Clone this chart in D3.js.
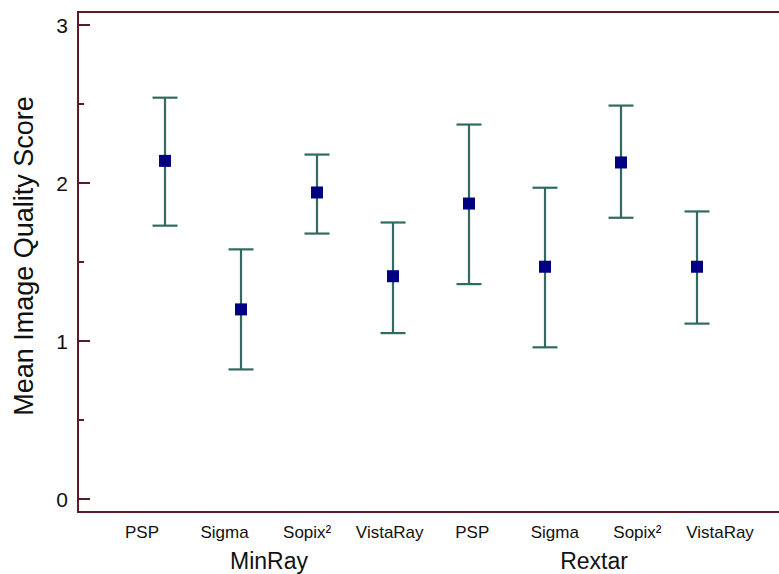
<!DOCTYPE html>
<html><head><meta charset="utf-8">
<script src="https://cdn.jsdelivr.net/npm/d3@7"></script>
<style>body{margin:0;background:#fff}svg{display:block}text{font-family:"Liberation Sans",Arial,sans-serif;fill:#111}</style>
</head><body>
<svg id="c" width="779" height="574"></svg>
<script>
const groups = ["MinRay", "Rextar"];
const systems = ["PSP", "Sigma", "Sopix²", "VistaRay"];
const means = [2.14, 1.20, 1.94, 1.41, 1.87, 1.47, 2.13, 1.47];
const upper = [2.54, 1.58, 2.18, 1.75, 2.37, 1.97, 2.49, 1.82];
const lower = [1.73, 0.82, 1.68, 1.05, 1.36, 0.96, 1.78, 1.11];
const yTicks = [0, 1, 2, 3];
const yMinor = [0.5, 1.5, 2.5];

const data = [];
groups.forEach((g, gi) => systems.forEach((s, si) => {
  const i = gi * systems.length + si;
  data.push({key: g + "|" + s, group: g, sys: s, m: means[i], hi: upper[i], lo: lower[i]});
}));

const svg = d3.select("#c");
const L = 78, T = 12, R = 779, B = 512;
const y = d3.scaleLinear().domain([0, 3]).range([499, 25]);
const x = d3.scalePoint().domain(data.map(d => d.key)).range([165, 697]);
const xl = d3.scalePoint().domain(data.map(d => d.key)).range([142, 720]);
const xg = d3.scalePoint().domain(groups).range([269, 594]);

const axisCol = "#5a1c26";
svg.append("rect").attr("x", L).attr("y", T).attr("width", R - L + 2).attr("height", B - T)
  .attr("fill", "none").attr("stroke", axisCol).attr("stroke-width", 2);

// major ticks
svg.selectAll(".tk").data(yTicks).enter().append("line")
  .attr("x1", L).attr("x2", L + 12).attr("y1", d => y(d)).attr("y2", d => y(d))
  .attr("stroke", axisCol).attr("stroke-width", 2);
svg.selectAll(".mtk").data(yMinor).enter().append("line")
  .attr("x1", L).attr("x2", L + 6).attr("y1", d => y(d)).attr("y2", d => y(d))
  .attr("stroke", axisCol).attr("stroke-width", 2);
svg.selectAll(".tl").data(yTicks).enter().append("text")
  .attr("x", 68).attr("y", d => y(d) + 7.5).attr("text-anchor", "end")
  .attr("font-size", 21).attr("fill", "#222").text(d => d);

svg.append("text").attr("transform", "translate(33,256) rotate(-90)")
  .attr("text-anchor", "middle").attr("font-size", 27).text("Mean Image Quality Score");

// error bars
const ebCol = "#2f6b5f";
const cap = 12.5;
const eb = svg.append("g").attr("stroke", ebCol).attr("stroke-width", 2.2);
eb.selectAll(".v").data(data).enter().append("line")
  .attr("x1", d => x(d.key)).attr("x2", d => x(d.key))
  .attr("y1", d => y(d.hi)).attr("y2", d => y(d.lo));
eb.selectAll(".ch").data(data).enter().append("line")
  .attr("x1", d => x(d.key) - cap).attr("x2", d => x(d.key) + cap)
  .attr("y1", d => y(d.hi)).attr("y2", d => y(d.hi));
eb.selectAll(".cl").data(data).enter().append("line")
  .attr("x1", d => x(d.key) - cap).attr("x2", d => x(d.key) + cap)
  .attr("y1", d => y(d.lo)).attr("y2", d => y(d.lo));

const ms = 12;
svg.selectAll(".pt").data(data).enter().append("rect")
  .attr("x", d => x(d.key) - ms / 2).attr("y", d => y(d.m) - ms / 2)
  .attr("width", ms).attr("height", ms).attr("fill", "#000080");

// category labels
svg.selectAll(".cat").data(data).enter().append("text")
  .attr("x", d => xl(d.key)).attr("y", 538).attr("text-anchor", "middle")
  .attr("font-size", 17).text(d => d.sys);
svg.selectAll(".grp").data(groups).enter().append("text")
  .attr("x", d => xg(d)).attr("y", 569).attr("text-anchor", "middle")
  .attr("font-size", 23).text(d => d);
</script>
</body></html>
